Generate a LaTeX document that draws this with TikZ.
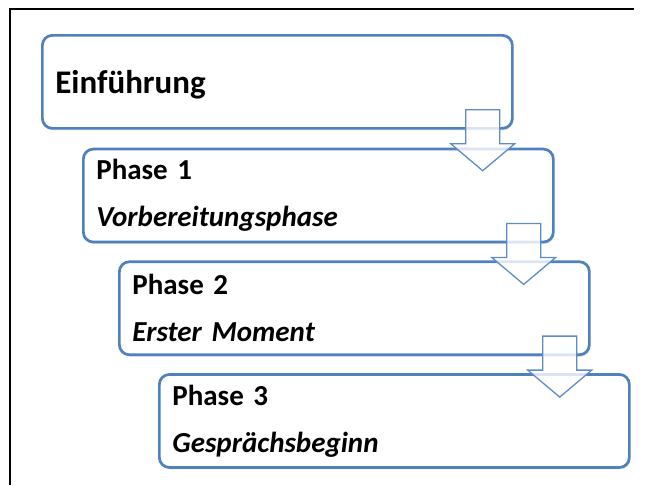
\documentclass[tikz,border=0pt]{standalone}
\usepackage{fontspec}
\setmainfont{Carlito}
\usetikzlibrary{positioning,calc,shadows}
\definecolor{boxblue}{RGB}{79,129,189}
\definecolor{arrowblue}{RGB}{96,140,196}

\begin{document}
\begin{tikzpicture}[x=1pt,y=-1pt,
   phasebox/.style={draw=boxblue,line width=2.7pt,rounded corners=10pt,fill=white,
      minimum width=470pt,minimum height=93pt,text width=444pt,inner xsep=13pt,
      align=left,font=\bfseries\fontsize{29}{47}\selectfont,
      drop shadow={opacity=0.2,shadow xshift=1pt,shadow yshift=-2pt}},
   downarrow/.style={draw=arrowblue,line width=1.3pt,fill=white,fill opacity=0.8}]
         \useasboundingbox (0,0) rectangle (647,485) ;
         \fill[white] (0,0) rectangle (647,485) ;
         % frame, only left and top edge visible
         \draw[line width=2pt] (10,485) -- (10,9) -- (634,9) ;
         % the steps
         \node[phasebox,anchor=north west,text depth=0pt,
            font=\bfseries\fontsize{33}{40}\selectfont]
            (intro) at (41,34) {Einführung} ;
         \node[phasebox,below right=18pt and 41pt of intro.south west]
            (phaseA) {Phase 1\\\textit{Vorbereitungsphase}} ;
         \node[phasebox,below right=17pt and 36pt of phaseA.south west]
            (phaseB) {Phase 2\\\textit{Erster Moment}} ;
         \node[phasebox,below right=17pt and 40pt of phaseB.south west]
            (phaseC) {Phase 3\\\textit{Gesprächsbeginn}} ;
         % block arrows between the steps
         \draw[downarrow] ($(intro.south east)+(-48,-20)$) -- ++(34,0) -- ++(0,34)
            -- ++(15,0) -- ++(-32,27) -- ++(-32,-27) -- ++(15,0) -- cycle ;
         \draw[downarrow] ($(phaseA.south east)+(-48,-20)$) -- ++(34,0) -- ++(0,34)
            -- ++(15,0) -- ++(-32,27) -- ++(-32,-27) -- ++(15,0) -- cycle ;
         \draw[downarrow] ($(phaseB.south east)+(-48,-20)$) -- ++(34,0) -- ++(0,34)
            -- ++(15,0) -- ++(-32,27) -- ++(-32,-27) -- ++(15,0) -- cycle ;
      \end{tikzpicture}
\end{document}
